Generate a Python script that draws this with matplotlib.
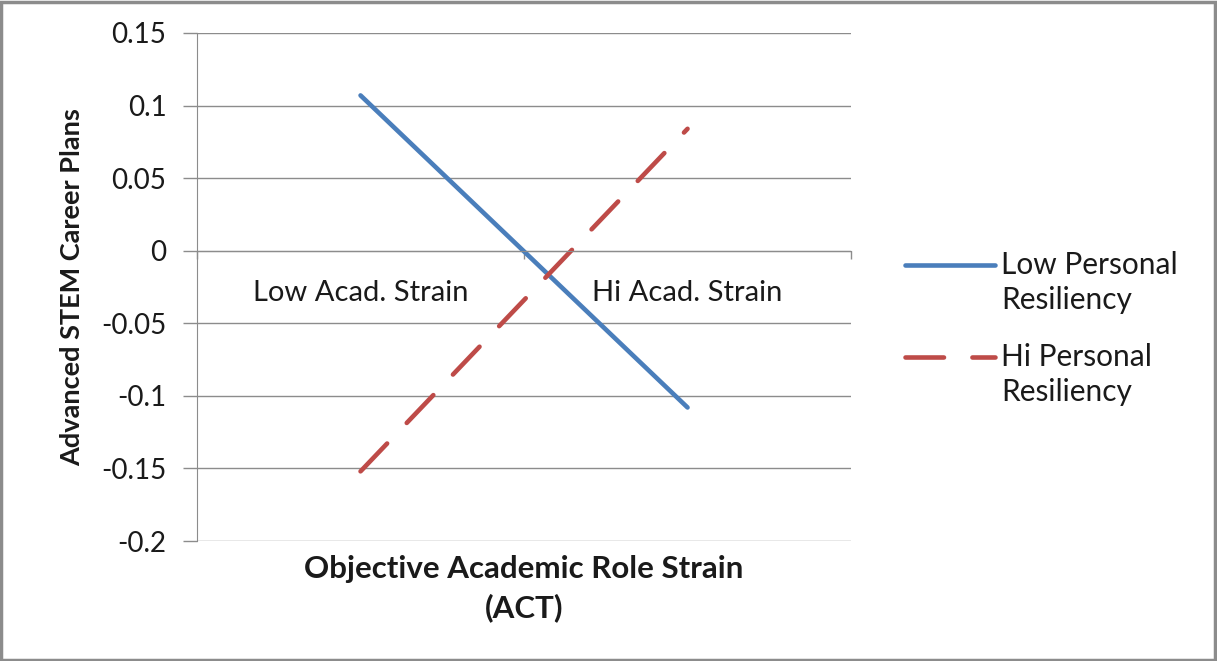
import matplotlib.pyplot as plt
from matplotlib.lines import Line2D
from matplotlib.patches import Rectangle

plt.rcParams['font.family'] = ['Lato', 'DejaVu Sans']

categories = ["Low Acad. Strain", "Hi Acad. Strain"]
low_resiliency = [0.107, -0.108]
hi_resiliency = [-0.152, 0.084]
y_ticks = [0.15, 0.1, 0.05, 0, -0.05, -0.1, -0.15, -0.2]
y_tick_labels = ["0.15", "0.1", "0.05", "0", "-0.05", "-0.1", "-0.15", "-0.2"]

grid_color = "#8c8c8c"
text_color = "#1a1a1a"
blue = "#4a7ebb"
red = "#be4b48"
line_width = 3.3
red_dashes = (8.4, 6.2)

fig = plt.figure(figsize=(12.17, 6.61), dpi=100)
ax = fig.add_axes([0.1619, 0.1815, 0.5374, 0.7686])

x = list(range(len(categories)))
ax.plot(x, low_resiliency, color=blue, lw=line_width, solid_capstyle="round")
ax.plot(x, hi_resiliency, color=red, lw=line_width, dashes=red_dashes,
        dash_capstyle="round")

ax.set_xlim(-0.5, 1.5)
ax.set_ylim(-0.2, 0.15)

# value axis with horizontal gridlines
ax.set_yticks(y_ticks)
ax.set_yticklabels(y_tick_labels, fontsize=20, color=text_color)
ax.tick_params(axis="y", length=10, width=1, color=grid_color, pad=12)
ax.yaxis.grid(True, color=grid_color, lw=1)
ax.set_axisbelow(True)

# category axis crosses at zero, ticks between categories
ax.spines["bottom"].set_position(("data", 0))
ax.spines["bottom"].set_color(grid_color)
ax.spines["left"].set_color(grid_color)
ax.spines["top"].set_visible(False)
ax.spines["right"].set_visible(False)
ax.set_xticks(x)
ax.set_xticklabels(categories, fontsize=21, color=text_color)
ax.tick_params(axis="x", length=0, pad=21)
ax.set_xticks([-0.5, 0.5, 1.5], minor=True)
ax.tick_params(axis="x", which="minor", length=6, width=1, color=grid_color)

ax.set_ylabel("Advanced STEM Career Plans", fontsize=19.5, fontweight="bold",
              color=text_color)
ax.yaxis.set_label_coords(-0.172, 0.5)
fig.text(0.4305, 0.160, "Objective Academic Role Strain\n(ACT)", ha="center",
         va="top", fontsize=22.5, fontweight="bold", linespacing=1.42,
         color=text_color)

# legend to the right of the plot, swatch level with the first text line
legend_rows = [
    (blue, None, "Low Personal", "Resiliency", 0.599),
    (red, red_dashes, "Hi Personal", "Resiliency", 0.460),
]
for color, dashes, line1, line2, y in legend_rows:
    swatch = Line2D([905 / 1217, 995 / 1217], [y, y], transform=fig.transFigure,
                    color=color, lw=line_width, solid_capstyle="round",
                    dash_capstyle="round")
    if dashes:
        swatch.set_dashes(dashes)
    fig.add_artist(swatch)
    fig.text(1001 / 1217, y, line1, ha="left", va="center", fontsize=21.5,
             color=text_color)
    fig.text(1001 / 1217, y - 0.053, line2, ha="left", va="center", fontsize=21.5,
             color=text_color)

fig.patches.append(Rectangle((0.001, 0.002), 0.997, 0.995, transform=fig.transFigure,
                             fill=False, edgecolor="#8c8c8c", lw=2.5))

fig.savefig("out.png", dpi=100, facecolor="white")
